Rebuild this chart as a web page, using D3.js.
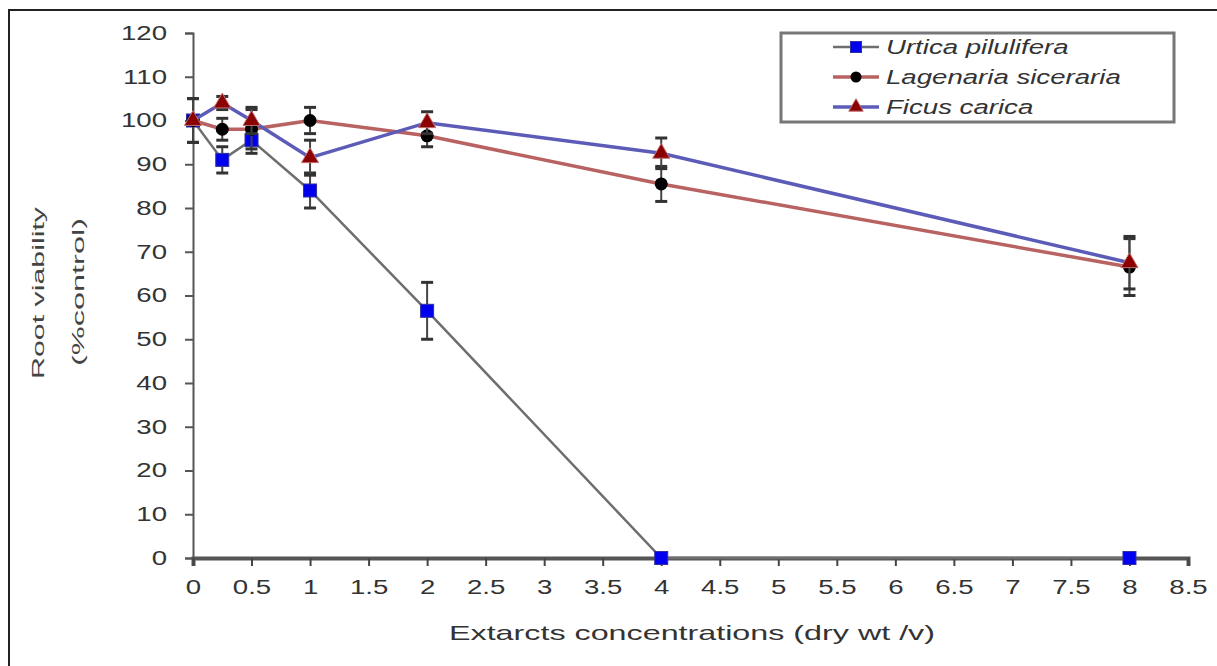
<!DOCTYPE html>
<html>
<head>
<meta charset="utf-8">
<script src="https://cdn.jsdelivr.net/npm/d3@7"></script>
<style>
  body { margin: 0; background: #fff; }
  text { font-family: "Liberation Sans", Arial, sans-serif; }
</style>
</head>
<body>
<script>
// concentrations (dry wt / v)
var conc = [0, 0.25, 0.5, 1, 2, 4, 8];

var urtica     = [100, 91, 95.5, 84, 56.5, 0, 0];
var urticaErr  = [5, 3, 3, 4, 6.5, 0, 0];
var lagenaria    = [100, 98, 98, 100, 96.5, 85.5, 66.5];
var lagenariaErr = [5, 2.5, 4.5, 3, 2.5, 4, 6.5];
var ficus     = [100, 104, 100, 91.5, 99.5, 92.5, 67.5];
var ficusErr  = [0, 1.5, 3, 4, 2.5, 3.5, 6];

var xTicks = d3.range(0, 8.51, 0.5);
var yTicks = d3.range(0, 121, 10);

var seriesNames = ["Urtica pilulifera", "Lagenaria siceraria", "Ficus carica"];

var width = 1217, height = 666;
var stretchX = 1.38; // the original picture is wider than its fonts

var svg = d3.select("body").append("svg")
    .attr("width", width)
    .attr("height", height);

// stretch text horizontally, keeping its anchor
function stretch(sel, k) {
  sel.each(function() {
    var w = this.getComputedTextLength();
    d3.select(this)
      .attr("textLength", w * k)
      .attr("lengthAdjust", "spacingAndGlyphs");
  });
}

// outer frame
svg.append("rect")
    .attr("x", 9).attr("y", 10)
    .attr("width", 1220).attr("height", 700)
    .style("fill", "none")
    .style("stroke", "#222")
    .style("stroke-width", 2);

var x = d3.scaleLinear().domain([0, 8.5]).range([193, 1188]);
var y = d3.scaleLinear().domain([0, 120]).range([558, 33]);

// y axis
var yAxis = svg.append("g")
    .attr("transform", "translate(" + x(0) + ",0)")
    .call(d3.axisLeft(y).tickValues(yTicks).tickSize(8).tickPadding(18));
yAxis.select(".domain").style("stroke", "#555").style("stroke-width", 2);
yAxis.selectAll(".tick line").style("stroke", "#555").style("stroke-width", 2);
yAxis.selectAll("text")
    .style("font-size", "20px")
    .style("fill", "#333")
    .call(stretch, stretchX);

// x axis
var xAxis = svg.append("g")
    .attr("transform", "translate(0," + y(0) + ")")
    .call(d3.axisBottom(x).tickValues(xTicks).tickSize(8).tickPadding(14)
        .tickFormat(function(d) { return d3.format("")(d); }));
xAxis.select(".domain").style("stroke", "#555").style("stroke-width", 4);
xAxis.selectAll(".tick line").style("stroke", "#444").style("stroke-width", 2);
xAxis.selectAll("text")
    .style("font-size", "20px")
    .style("fill", "#333")
    .call(stretch, stretchX);

// axis titles
svg.append("text")
    .attr("x", 692).attr("y", 640)
    .attr("text-anchor", "middle")
    .style("font-size", "21px")
    .style("fill", "#333")
    .text("Extarcts concentrations (dry wt /v)")
    .attr("textLength", 486)
    .attr("lengthAdjust", "spacingAndGlyphs");

svg.append("text")
    .attr("transform", "translate(44,293) rotate(-90)")
    .attr("text-anchor", "middle")
    .style("font-size", "16px")
    .style("fill", "#444")
    .text("Root viability")
    .attr("textLength", 172)
    .attr("lengthAdjust", "spacingAndGlyphs");
svg.append("text")
    .attr("transform", "translate(84,292) rotate(-90)")
    .attr("text-anchor", "middle")
    .style("font-size", "16px")
    .style("fill", "#444")
    .text("(%control)")
    .attr("textLength", 148)
    .attr("lengthAdjust", "spacingAndGlyphs");

var series = [
  {name: seriesNames[0], vals: urtica, err: urticaErr, line: "#6e6e6e", lw: 2.5, shape: "square", fill: "#0000ee"},
  {name: seriesNames[1], vals: lagenaria, err: lagenariaErr, line: "#b86262", lw: 3.5, shape: "circle", fill: "#000"},
  {name: seriesNames[2], vals: ficus, err: ficusErr, line: "#5c5cb8", lw: 3.5, shape: "triangle", fill: "#8b0000"}
];

var line = d3.line()
    .x(function(d) { return x(d[0]); })
    .y(function(d) { return y(d[1]); });

function drawMarker(g, shape, fill, size) {
  if (shape === "square") {
    g.append("rect")
      .attr("x", -size / 2).attr("y", -size / 2)
      .attr("width", size).attr("height", size)
      .style("fill", fill).style("stroke", "#3030a0").style("stroke-width", 1);
  } else if (shape === "circle") {
    g.append("circle").attr("r", size / 2).style("fill", fill);
  } else {
    g.append("path")
      .attr("d", d3.symbol().type(d3.symbolTriangle).size(size * size * 0.75)())
      .style("fill", fill)
      .style("stroke", "#c07070").style("stroke-width", 1);
  }
}

series.forEach(function(s) {
  var pts = conc.map(function(c, i) { return [c, s.vals[i], s.err[i]]; });
  var g = svg.append("g");

  g.append("path")
    .datum(pts)
    .attr("d", line)
    .style("fill", "none")
    .style("stroke", s.line)
    .style("stroke-width", s.lw);

  // error bars
  var eb = g.selectAll(".eb")
    .data(pts.filter(function(d) { return d[2] > 0; }))
    .enter().append("g")
    .attr("class", "eb");
  eb.append("line")
    .attr("x1", function(d) { return x(d[0]); })
    .attr("x2", function(d) { return x(d[0]); })
    .attr("y1", function(d) { return y(d[1] - d[2]); })
    .attr("y2", function(d) { return y(d[1] + d[2]); })
    .style("stroke", "#444").style("stroke-width", 2);
  [1, -1].forEach(function(sign) {
    eb.append("line")
      .attr("x1", function(d) { return x(d[0]) - 6; })
      .attr("x2", function(d) { return x(d[0]) + 6; })
      .attr("y1", function(d) { return y(d[1] + sign * d[2]); })
      .attr("y2", function(d) { return y(d[1] + sign * d[2]); })
      .style("stroke", "#333").style("stroke-width", 3);
  });

  g.selectAll(".mk")
    .data(pts)
    .enter().append("g")
    .attr("class", "mk")
    .attr("transform", function(d) { return "translate(" + x(d[0]) + "," + y(d[1]) + ")"; })
    .each(function() { drawMarker(d3.select(this), s.shape, s.fill, 13); });
});

// legend
var legend = svg.append("g");
legend.append("rect")
    .attr("x", 781).attr("y", 33)
    .attr("width", 393).attr("height", 89)
    .style("fill", "#fff")
    .style("stroke", "#777")
    .style("stroke-width", 3);

series.forEach(function(s, i) {
  var ly = 47 + i * 30;
  var lg = legend.append("g");
  lg.append("line")
    .attr("x1", 833).attr("x2", 879)
    .attr("y1", ly).attr("y2", ly)
    .style("stroke", s.line).style("stroke-width", s.lw);
  var m = lg.append("g").attr("transform", "translate(856," + ly + ")");
  drawMarker(m, s.shape, s.fill, 11);
  lg.append("text")
    .attr("x", 886).attr("y", ly + 7)
    .style("font-size", "20px")
    .style("font-style", "italic")
    .style("fill", "#333")
    .text(s.name)
    .call(stretch, stretchX);
});
</script>
</body>
</html>
